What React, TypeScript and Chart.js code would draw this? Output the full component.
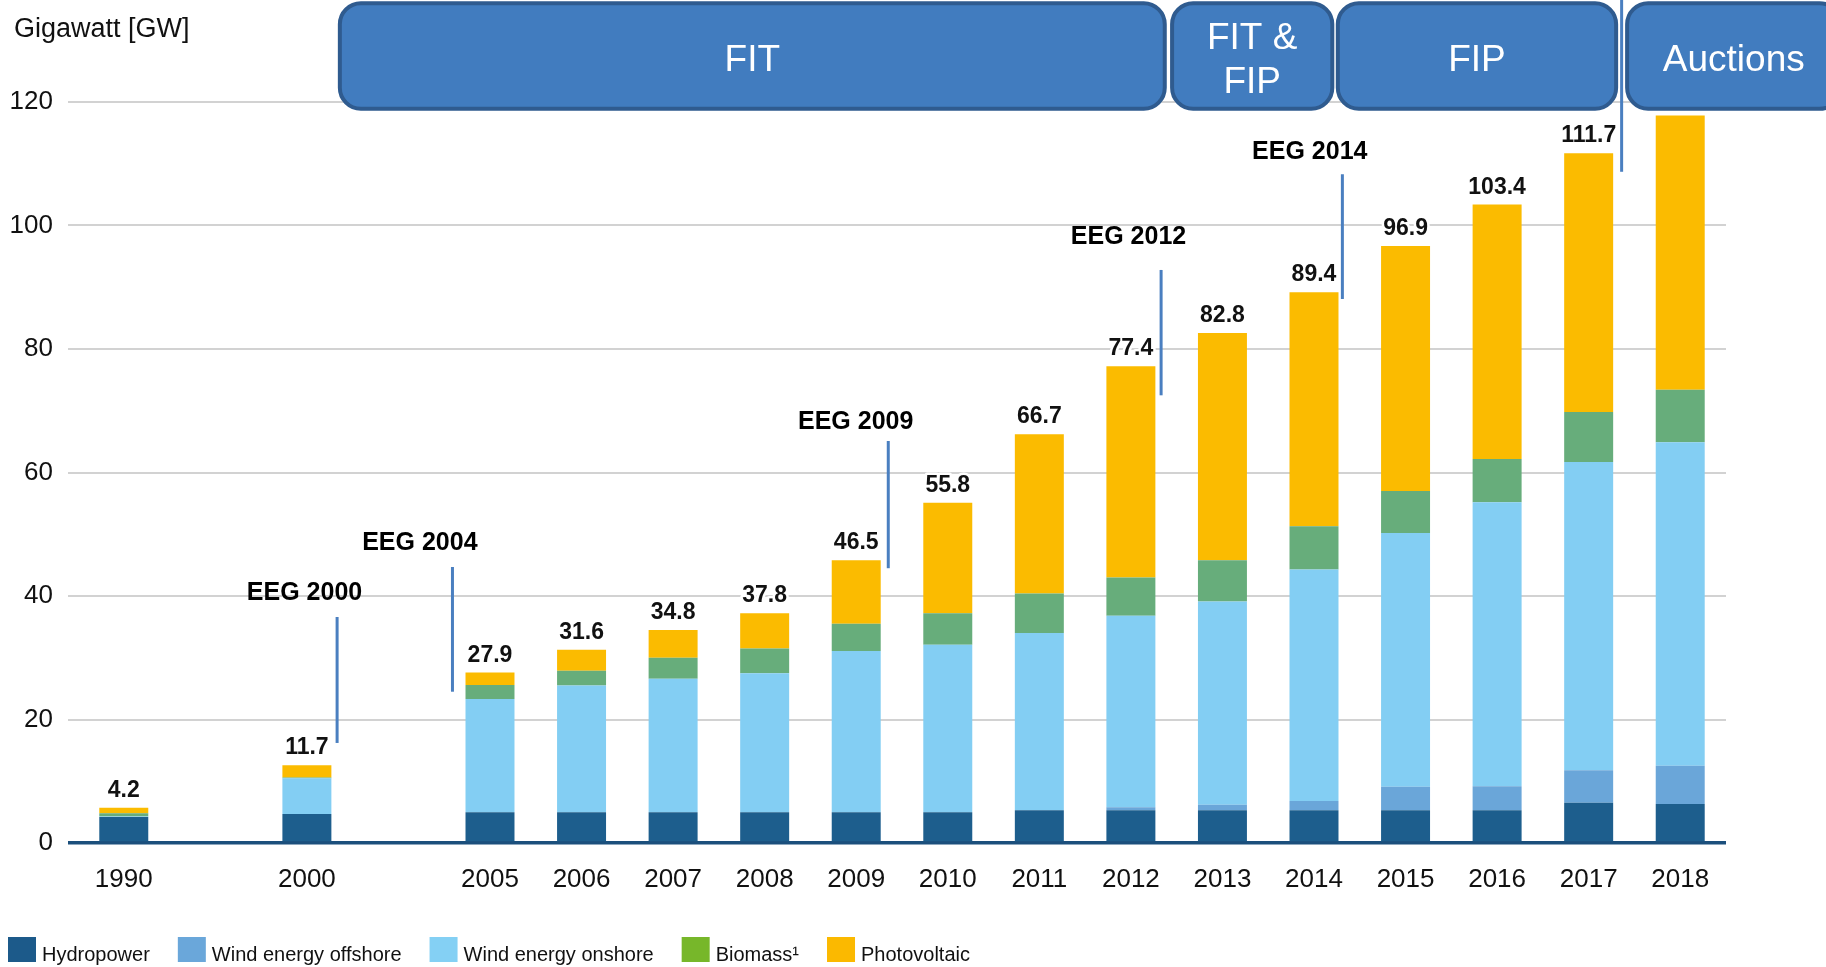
import React, { useEffect, useRef } from 'react';
import { Chart, registerables } from 'chart.js';

Chart.register(...registerables);

// ---------- data ----------
const categories = ['1990', '', '2000', '', '2005', '2006', '2007', '2008', '2009', '2010', '2011', '2012', '2013', '2014', '2015', '2016', '2017', '2018'];
const hydropower = [4.2, null, 4.7, null, 5.0, 5.0, 5.0, 5.0, 5.0, 5.0, 5.3, 5.3, 5.3, 5.3, 5.3, 5.3, 6.5, 6.3];
const windOffshore = [0, null, 0, null, 0, 0, 0, 0, 0, 0, 0, 0.5, 0.9, 1.5, 3.8, 3.9, 5.3, 6.2];
const windOnshore = [0.1, null, 5.8, null, 18.3, 20.5, 21.6, 22.5, 26.1, 27.1, 28.7, 31.0, 32.9, 37.5, 41.1, 46.0, 49.9, 52.4];
const biomass = [0.5, null, 0.1, null, 2.3, 2.4, 3.4, 4.0, 4.4, 5.1, 6.4, 6.2, 6.7, 7.0, 6.8, 7.0, 8.1, 8.5];
const photovoltaic = [0.9, null, 2.0, null, 2.0, 3.4, 4.5, 5.7, 10.3, 17.9, 25.8, 34.2, 36.8, 37.9, 39.7, 41.2, 41.9, 44.4];
const totalLabels = ['4.2', '', '11.7', '', '27.9', '31.6', '34.8', '37.8', '46.5', '55.8', '66.7', '77.4', '82.8', '89.4', '96.9', '103.4', '111.7', ''];
const seriesNames = ['Hydropower', 'Wind energy offshore', 'Wind energy onshore', 'Biomass¹', 'Photovoltaic'];
const yTicks = [0, 20, 40, 60, 80, 100, 120];

// EEG amendments (x in category-slot units, y in GW)
const eegLabels = ['EEG 2000', 'EEG 2004', 'EEG 2009', 'EEG 2012', 'EEG 2014', ''];
const eegSlot = [2.33, 3.59, 8.35, 11.33, 13.31, 16.36];
const eegLineTop = [36.6, 44.7, 65.1, 92.8, 108.3, 140];
const eegLineBottom = [16.2, 24.5, 44.5, 72.5, 88.1, 108.7];
const eegTextY = [40.4, 48.5, 68.1, 98.1, 111.9, 0];

// support-scheme phases
const phaseLabels = [['FIT'], ['FIT &', 'FIP'], ['FIP'], ['Auctions']];
const phaseStart = [2.36, 11.45, 13.26, 16.42];
const phaseEnd = [11.37, 13.20, 16.30, 18.75];
const phaseTop = 136;
const phaseBottom = 118.9;

// ---------- styles ----------
const barColors = ['#1d5e8d', '#6aa6d9', '#83cef3', '#67ad7b', '#fbbb00'];
const legendColors = ['#1c5a8a', '#6aa7da', '#84d0f4', '#77b72a', '#fbb900'];
const SANS = '"Liberation Sans", Arial, sans-serif';

const overlayPlugin = {
  id: 'overlay',
  afterDatasetsDraw(chart: any) {
    const { ctx } = chart;
    const x = chart.scales.x;
    const y = chart.scales.y;
    const p0 = x.getPixelForValue(0);
    const p1 = x.getPixelForValue(1);
    const sx = (s: number) => p0 + s * (p1 - p0);
    ctx.save();

    // totals above bars
    ctx.font = `bold 23px ${SANS}`;
    ctx.textAlign = 'center';
    ctx.textBaseline = 'alphabetic';
    ctx.lineJoin = 'round';
    const all = [hydropower, windOffshore, windOnshore, biomass, photovoltaic];
    totalLabels.forEach((lab, i) => {
      if (!lab) return;
      const sum = all.reduce((a, arr) => a + ((arr[i] as number) || 0), 0);
      const py = y.getPixelForValue(sum) - 11;
      ctx.strokeStyle = '#ffffff';
      ctx.lineWidth = 5;
      ctx.strokeText(lab, sx(i), py);
      ctx.fillStyle = '#111111';
      ctx.fillText(lab, sx(i), py);
    });

    // phase banners
    phaseLabels.forEach((lines, k) => {
      const left = sx(phaseStart[k]);
      const right = sx(phaseEnd[k]);
      const top = y.getPixelForValue(phaseTop);
      const bottom = y.getPixelForValue(phaseBottom);
      ctx.beginPath();
      ctx.roundRect(left, top, right - left, bottom - top, 21);
      ctx.fillStyle = '#417cbf';
      ctx.fill();
      ctx.lineWidth = 4;
      ctx.strokeStyle = '#2f5b8f';
      ctx.stroke();
      ctx.fillStyle = '#ffffff';
      ctx.font = `37px ${SANS}`;
      ctx.textAlign = 'center';
      ctx.textBaseline = 'middle';
      const cx = (left + right) / 2;
      const cy = (top + bottom) / 2 + 4.5;
      const lh = 44;
      lines.forEach((t, j) => {
        ctx.fillText(t, cx, cy + (j - (lines.length - 1) / 2) * lh);
      });
    });

    // EEG markers
    eegLabels.forEach((lab, k) => {
      const lx = sx(eegSlot[k]);
      ctx.beginPath();
      ctx.moveTo(lx, y.getPixelForValue(eegLineTop[k]));
      ctx.lineTo(lx, y.getPixelForValue(eegLineBottom[k]));
      ctx.lineWidth = 3;
      ctx.strokeStyle = '#4a7fc0';
      ctx.stroke();
      if (lab) {
        ctx.font = `bold 25px ${SANS}`;
        ctx.fillStyle = '#000000';
        ctx.textAlign = 'center';
        ctx.textBaseline = 'middle';
        ctx.fillText(lab, sx(eegSlot[k] - 0.356), y.getPixelForValue(eegTextY[k]));
      }
    });
    ctx.restore();
  },
  afterDraw(chart: any) {
    const { ctx } = chart;
    ctx.save();
    // axis unit title
    ctx.font = `27px ${SANS}`;
    ctx.fillStyle = '#111111';
    ctx.textAlign = 'left';
    ctx.textBaseline = 'alphabetic';
    ctx.fillText('Gigawatt [GW]', 14, 37);

    // legend
    let lx = 8;
    const ly = 937;
    ctx.font = `20px ${SANS}`;
    seriesNames.forEach((name, i) => {
      ctx.fillStyle = legendColors[i];
      ctx.fillRect(lx, ly, 28, 25);
      ctx.fillStyle = '#111111';
      ctx.textBaseline = 'alphabetic';
      ctx.fillText(name, lx + 34, ly + 24);
      lx += 34 + ctx.measureText(name).width + 28;
    });
    ctx.restore();
  },
};

export default function App() {
  const canvasRef = useRef<HTMLCanvasElement | null>(null);

  useEffect(() => {
    if (!canvasRef.current) return;
    const series = [hydropower, windOffshore, windOnshore, biomass, photovoltaic];
    const chart = new Chart(canvasRef.current, {
      type: 'bar',
      data: {
        labels: categories,
        datasets: series.map((d, i) => ({
          label: seriesNames[i],
          data: d,
          backgroundColor: barColors[i],
          borderWidth: 0,
          categoryPercentage: 1,
          barPercentage: 0.535,
          stack: 'total',
        })),
      },
      options: {
        animation: false,
        responsive: true,
        maintainAspectRatio: false,
        layout: { padding: { top: 102, right: 100, bottom: 0, left: 0 } },
        plugins: {
          legend: { display: false },
          tooltip: { enabled: false },
        },
        scales: {
          x: {
            stacked: true,
            grid: { display: false, drawTicks: false },
            border: { display: false },
            ticks: {
              color: '#111111',
              font: { family: SANS, size: 26 },
              padding: 21,
              autoSkip: false,
              maxRotation: 0,
            },
            afterFit: (scale: any) => {
              scale.height = 124;
            },
          },
          y: {
            stacked: true,
            min: 0,
            max: 120,
            afterBuildTicks: (scale: any) => {
              scale.ticks = yTicks.map((v) => ({ value: v }));
            },
            grid: {
              color: (c: any) => (c.tick && c.tick.value === 0 ? '#1b4f7c' : '#d2d2d2'),
              lineWidth: (c: any) => (c.tick && c.tick.value === 0 ? 3.5 : 2),
              tickLength: 10,
              drawTicks: true,
            },
            border: { display: false },
            ticks: {
              color: '#111111',
              font: { family: SANS, size: 26 },
              padding: 15,
            },
            afterFit: (scale: any) => {
              scale.width = 78;
            },
          },
        },
      },
      plugins: [overlayPlugin],
    });
    return () => chart.destroy();
  }, []);

  return (
    <div style={{ position: 'fixed', left: 0, top: 0, width: '1826px', height: '967px', background: '#ffffff' }}>
      <canvas ref={canvasRef} />
    </div>
  );
}
